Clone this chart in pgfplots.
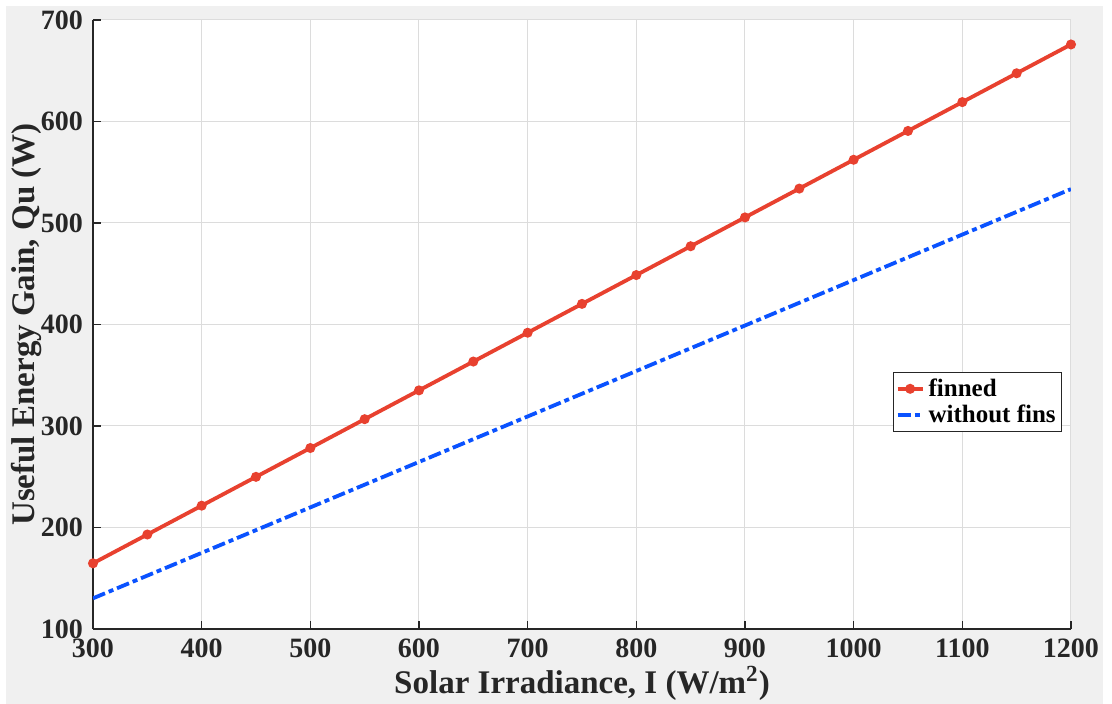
\documentclass[border=0pt]{standalone}
\usepackage{fontspec}
\setmainfont{Liberation Serif}
\usepackage{pgfplots}
\pgfplotsset{compat=1.18}
\definecolor{figgray}{HTML}{F0F0F0}
\definecolor{finred}{HTML}{E8412F}
\definecolor{finblue}{HTML}{0A52FF}
\definecolor{axgray}{HTML}{262626}
\definecolor{gridgray}{HTML}{DCDCDC}
\begin{document}
\begin{tikzpicture}
\path[use as bounding box] (0,0) rectangle (556pt,352pt);
\fill[figgray] (3pt,0) rectangle (551.5pt,349pt);
\begin{axis}[
  at={(46.5pt,37.5pt)}, anchor=south west,
  scale only axis, width=489pt, height=304.5pt,
  xmin=300, xmax=1200, ymin=100, ymax=700,
  xtick={300,400,...,1200}, ytick={100,200,...,700},
  axis background/.style={fill=white},
  axis x line*=bottom, axis y line*=left,
  axis line style={axgray, line width=0.6pt, -},
  tick align=inside, major tick length=4pt,
  tick style={axgray, line width=0.6pt},
  grid=major, major grid style={gridgray, line width=0.5pt},
  /pgf/number format/assume math mode=true,
  /pgf/number format/1000 sep={},
  ticklabel style={font=\fontsize{14}{16}\selectfont\bfseries, text=axgray},
  xticklabel style={yshift=-1.5pt},
  yticklabel style={xshift=-1.5pt},
  label style={font=\fontsize{16.5}{18}\selectfont\bfseries, text=axgray},
  xlabel={Solar Irradiance, I (W/m\textsuperscript{2})},
  ylabel={Useful Energy Gain, Qu (W)},
  xlabel style={at={(axis description cs:0.5,-0.1067)}, anchor=base},
  ylabel style={at={(axis description cs:-0.0675,0.5)}, anchor=center},
  legend style={at={(0.991,0.422)}, anchor=north east, draw=axgray, line width=0.5pt,
    fill=white, font=\fontsize{12.5}{14}\selectfont\bfseries, inner sep=1pt,
    row sep=-1pt},
  legend cell align=left,
  legend image code/.code={\draw[mark repeat=2,mark phase=2,#1] plot coordinates {(0cm,0cm)(0.22cm,0cm)(0.44cm,0cm)};},
]
\addplot[finred, line width=1.9pt, mark=*, mark size=1.5pt] coordinates {
(300,164.7)(350,193.1)(400,221.5)(450,249.9)(500,278.3)(550,306.7)(600,335.1)
(650,363.5)(700,391.9)(750,420.3)(800,448.7)(850,477.1)(900,505.5)(950,533.9)
(1000,562.3)(1050,590.7)(1100,619.1)(1150,647.5)(1200,675.9)};
\addlegendentry{finned}
\addplot[finblue, line width=1.9pt, dash pattern=on 6.5pt off 2pt on 2.5pt off 2pt] coordinates {
(300,130.2)(400,175.0)(500,219.8)(600,264.6)(700,309.4)(800,354.2)(900,399.0)
(1000,443.8)(1100,488.6)(1200,533.4)};
\addlegendentry{without fins}
\end{axis}
\end{tikzpicture}
\end{document}
